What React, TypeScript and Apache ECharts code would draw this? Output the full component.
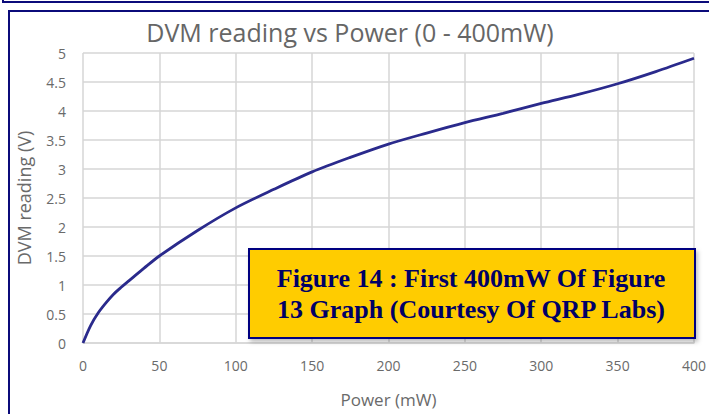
import React, { useEffect, useRef } from "react";
import * as echarts from "echarts";

const powerMW = [0, 5, 10, 15, 20, 25, 30, 40, 50, 75, 100, 125, 150, 175, 200, 225, 250, 275, 300, 325, 350, 375, 400];
const dvmVolts = [0, 0.3, 0.52, 0.69, 0.84, 0.96, 1.07, 1.29, 1.5, 1.94, 2.33, 2.65, 2.95, 3.2, 3.43, 3.62, 3.8, 3.96, 4.13, 4.29, 4.47, 4.68, 4.91];
const titleText = "DVM reading vs Power (0 - 400mW)";
const xName = "Power (mW)";
const yName = "DVM reading (V)";
const captionLines = ["Figure 14 : First 400mW Of Figure", "13 Graph (Courtesy Of QRP Labs)"];

export default function App() {
  const ref = useRef<HTMLDivElement>(null);
  useEffect(() => {
    if (!ref.current) return;
    const chart = echarts.init(ref.current, undefined, { renderer: "svg" });
    const grey = "#6a6a6a";
    const gridC = "#d6d6d6";
    chart.setOption({
      animation: false,
      backgroundColor: "#ffffff",
      grid: { left: 83, right: 12, top: 53, bottom: 71 },
      xAxis: {
        type: "value",
        min: 0,
        max: 400,
        interval: 50,
        name: xName,
        nameLocation: "middle",
        nameGap: 48,
        nameTextStyle: { color: grey, fontSize: 17, fontFamily: "Open Sans" },
        axisLine: { show: true, lineStyle: { color: gridC, width: 1.5 } },
        axisTick: { show: false },
        axisLabel: { color: grey, fontSize: 14, fontFamily: "Open Sans", margin: 15 },
        splitLine: { show: true, lineStyle: { color: gridC, width: 1.5 } },
      },
      yAxis: {
        type: "value",
        min: 0,
        max: 5,
        interval: 0.5,
        name: yName,
        nameLocation: "middle",
        nameGap: 50,
        nameTextStyle: { color: grey, fontSize: 18, fontFamily: "Open Sans" },
        axisLine: { show: false },
        axisTick: { show: false },
        axisLabel: { color: grey, fontSize: 14, fontFamily: "Open Sans", margin: 17 },
        splitLine: { show: true, lineStyle: { color: gridC, width: 1.5 } },
      },
      series: [
        {
          type: "line",
          data: powerMW.map((p, i) => [p, dvmVolts[i]]),
          smooth: 0.3,
          showSymbol: false,
          lineStyle: { color: "#2a2a8c", width: 2.8 },
        },
      ],
      graphic: [
        { type: "line", shape: { x1: 3, y1: 2, x2: 712, y2: 2 }, style: { stroke: "#0b0b7a", lineWidth: 2 } },
        { type: "line", shape: { x1: 3, y1: 0, x2: 3, y2: 3 }, style: { stroke: "#0b0b7a", lineWidth: 2 } },
        { type: "rect", shape: { x: 9, y: 11, width: 720, height: 420 }, style: { fill: "none", stroke: "#0b0b7a", lineWidth: 2 } },
        {
          type: "text",
          x: 350,
          y: 32,
          style: { text: titleText, fill: "#666666", fontSize: 25, fontFamily: "Open Sans", textAlign: "center", textVerticalAlign: "middle" },
        },
        {
          type: "rect",
          shape: { x: 249, y: 249, width: 446, height: 89 },
          style: { fill: "#ffcc00", stroke: "#000080", lineWidth: 2, shadowColor: "rgba(0,0,0,0.25)", shadowBlur: 4, shadowOffsetX: 2, shadowOffsetY: 3 },
          z: 10,
        },
        {
          type: "text",
          x: 471,
          y: 294,
          z: 11,
          style: {
            text: captionLines.join("\n"),
            fill: "#000066",
            fontSize: 26,
            fontWeight: "bold",
            fontFamily: "Liberation Serif",
            textAlign: "center",
            textVerticalAlign: "middle",
            lineHeight: 31,
          },
        },
      ],
    });
    return () => chart.dispose();
  }, []);
  return <div ref={ref} style={{ position: "fixed", left: 0, top: 0, width: 709, height: 414 }} />;
}
